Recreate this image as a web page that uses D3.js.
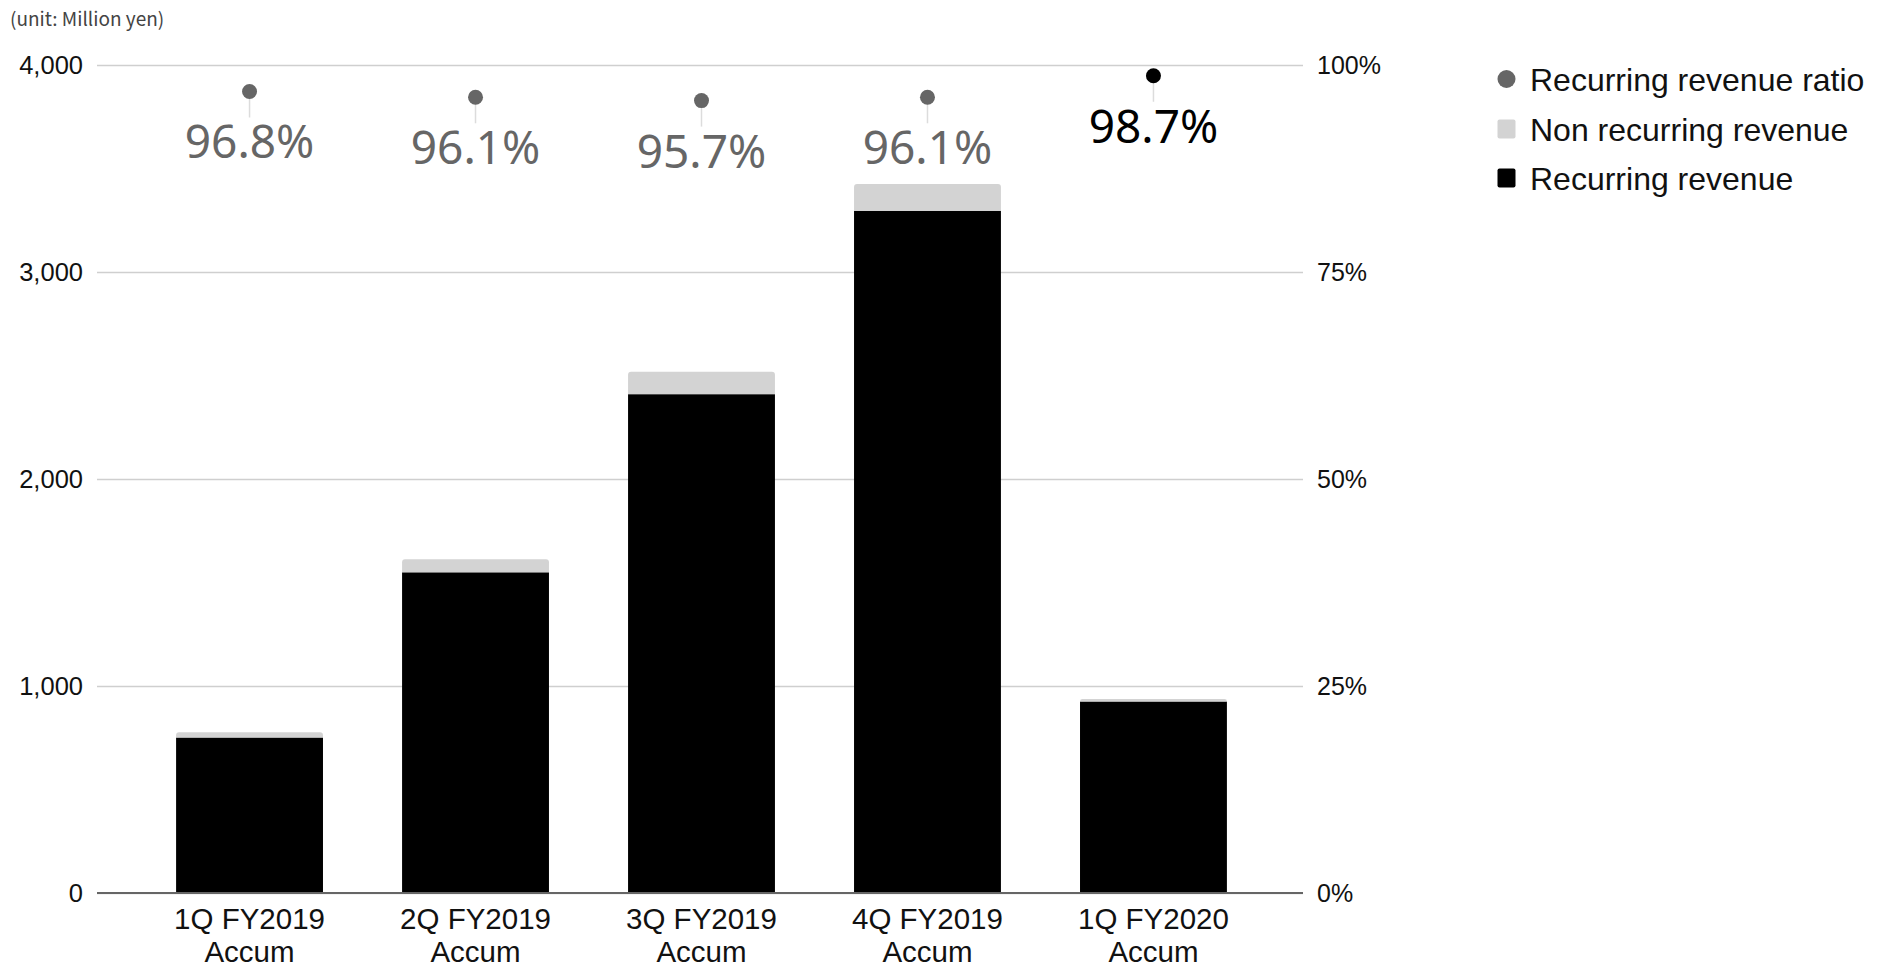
<!DOCTYPE html>
<html>
<head>
<meta charset="utf-8">
<script src="https://cdn.jsdelivr.net/npm/d3@7"></script>
<style>
  html, body { margin: 0; padding: 0; background: #fff; }
  svg { display: block; }
</style>
</head>
<body>
<svg id="chart" width="1884" height="970"></svg>
<script>
// Quarterly accumulated revenue (million yen)
const categories = ["1Q FY2019|Accum", "2Q FY2019|Accum", "3Q FY2019|Accum", "4Q FY2019|Accum", "1Q FY2020|Accum"];
const recurringRevenue = [751, 1549, 2410, 3295, 925];
const nonRecurringRevenue = [25, 63, 108, 130, 12];
const recurringRatio = [96.8, 96.1, 95.7, 96.1, 98.7];
const leftTicks = [0, 1000, 2000, 3000, 4000];
const rightTicks = [0, 25, 50, 75, 100];
const legendItems = ["Recurring revenue ratio", "Non recurring revenue", "Recurring revenue"];

const svg = d3.select("#chart");
const plot = { left: 97, right: 1303, top: 65, bottom: 893 };
const tickFont = "Arial, 'Liberation Sans', sans-serif";

const x = d3.scaleBand()
  .domain(categories)
  .range([plot.left, 1306])
  .paddingInner(0.35)
  .paddingOuter(0.35);

const yLeft = d3.scaleLinear().domain([0, 4000]).range([plot.bottom, plot.top]);
const yRight = d3.scaleLinear().domain([0, 100]).range([plot.bottom, plot.top]);

// Unit note
svg.append("text")
  .attr("x", 10).attr("y", 26)
  .attr("font-family", "'Noto Sans CJK JP', 'Noto Sans', sans-serif")
  .attr("font-size", 19)
  .attr("fill", "#444")
  .text("(unit: Million yen)");

// Left axis with gridlines
const gLeft = svg.append("g")
  .attr("transform", `translate(${plot.left},0)`)
  .call(d3.axisLeft(yLeft)
    .tickValues(leftTicks)
    .tickSize(-(plot.right - plot.left))
    .tickPadding(14)
    .tickFormat(d3.format(",")));
gLeft.select(".domain").remove();
gLeft.selectAll(".tick line").attr("stroke", "#cfcfcf").attr("stroke-width", 1.5);
gLeft.selectAll(".tick text")
  .attr("font-family", tickFont).attr("font-size", 25.5).attr("fill", "#111");

// Right axis (ratio)
const gRight = svg.append("g")
  .attr("transform", `translate(${plot.right},0)`)
  .call(d3.axisRight(yRight)
    .tickValues(rightTicks)
    .tickSize(0)
    .tickPadding(14)
    .tickFormat(d => d + "%"));
gRight.select(".domain").remove();
gRight.selectAll(".tick text")
  .attr("font-family", tickFont).attr("font-size", 25).attr("fill", "#111");

// Stacked bars
const series = categories.map((c, i) => ({
  cat: c,
  rec: recurringRevenue[i],
  non: nonRecurringRevenue[i]
}));

function topRoundedRect(x0, y0, w, h, r) {
  r = Math.min(r, h, w / 2);
  return `M${x0},${y0 + h}V${y0 + r}Q${x0},${y0} ${x0 + r},${y0}H${x0 + w - r}Q${x0 + w},${y0} ${x0 + w},${y0 + r}V${y0 + h}Z`;
}

const bars = svg.append("g");
bars.selectAll("rect.rec")
  .data(series).join("rect")
  .attr("class", "rec")
  .attr("x", d => x(d.cat))
  .attr("width", x.bandwidth())
  .attr("y", d => yLeft(d.rec))
  .attr("height", d => yLeft(0) - yLeft(d.rec))
  .attr("fill", "#000");

bars.selectAll("path.non")
  .data(series).join("path")
  .attr("class", "non")
  .attr("d", d => topRoundedRect(x(d.cat), yLeft(d.rec + d.non), x.bandwidth(),
                                 yLeft(d.rec) - yLeft(d.rec + d.non), 3))
  .attr("fill", "#d3d3d3");

// Zero baseline
svg.append("line")
  .attr("x1", plot.left).attr("x2", plot.right)
  .attr("y1", yLeft(0)).attr("y2", yLeft(0))
  .attr("stroke", "#666").attr("stroke-width", 2);

// Category labels (two lines)
const xl = svg.append("g");
categories.forEach(c => {
  const lines = c.split("|");
  const cx = x(c) + x.bandwidth() / 2;
  const t = xl.append("text")
    .attr("x", cx)
    .attr("y", 929)
    .attr("text-anchor", "middle")
    .attr("font-family", tickFont)
    .attr("font-size", 29.5)
    .attr("fill", "#111");
  lines.forEach((ln, j) => {
    t.append("tspan")
      .attr("x", cx)
      .attr("dy", j === 0 ? 0 : 33)
      .text(ln);
  });
});

// Ratio points with leader lines and labels
const pts = svg.append("g");
categories.forEach((c, i) => {
  const cx = x(c) + x.bandwidth() / 2;
  const cy = yRight(recurringRatio[i]);
  const latest = i === categories.length - 1;
  const col = latest ? "#000" : "#666";
  pts.append("line")
    .attr("x1", cx).attr("x2", cx)
    .attr("y1", cy).attr("y2", cy + 26)
    .attr("stroke", "#dcdcdc").attr("stroke-width", 1.5);
  pts.append("circle")
    .attr("cx", cx).attr("cy", cy).attr("r", 7.5)
    .attr("fill", col);
  pts.append("text")
    .attr("x", cx).attr("y", cy + 67)
    .attr("text-anchor", "middle")
    .attr("font-family", "'Noto Sans', 'Open Sans', sans-serif")
    .attr("font-size", 46)
    .attr("fill", col)
    .text(recurringRatio[i].toFixed(1) + "%");
});

// Legend
const legend = svg.append("g").attr("transform", "translate(1497,0)");
const rowsY = [79, 129, 178];
legendItems.forEach((name, i) => {
  const g = legend.append("g").attr("transform", `translate(0,${rowsY[i]})`);
  if (i === 0) {
    g.append("circle").attr("cx", 9.5).attr("cy", 0).attr("r", 9).attr("fill", "#666");
  } else {
    g.append("rect").attr("x", 0.5).attr("y", -9.5).attr("width", 18).attr("height", 19)
      .attr("rx", 2).attr("fill", i === 1 ? "#d3d3d3" : "#000");
  }
  g.append("text")
    .attr("x", 33).attr("y", 0).attr("dy", "0.36em")
    .attr("font-family", tickFont)
    .attr("font-size", 32)
    .attr("fill", "#111")
    .text(name);
});
</script>
</body>
</html>
